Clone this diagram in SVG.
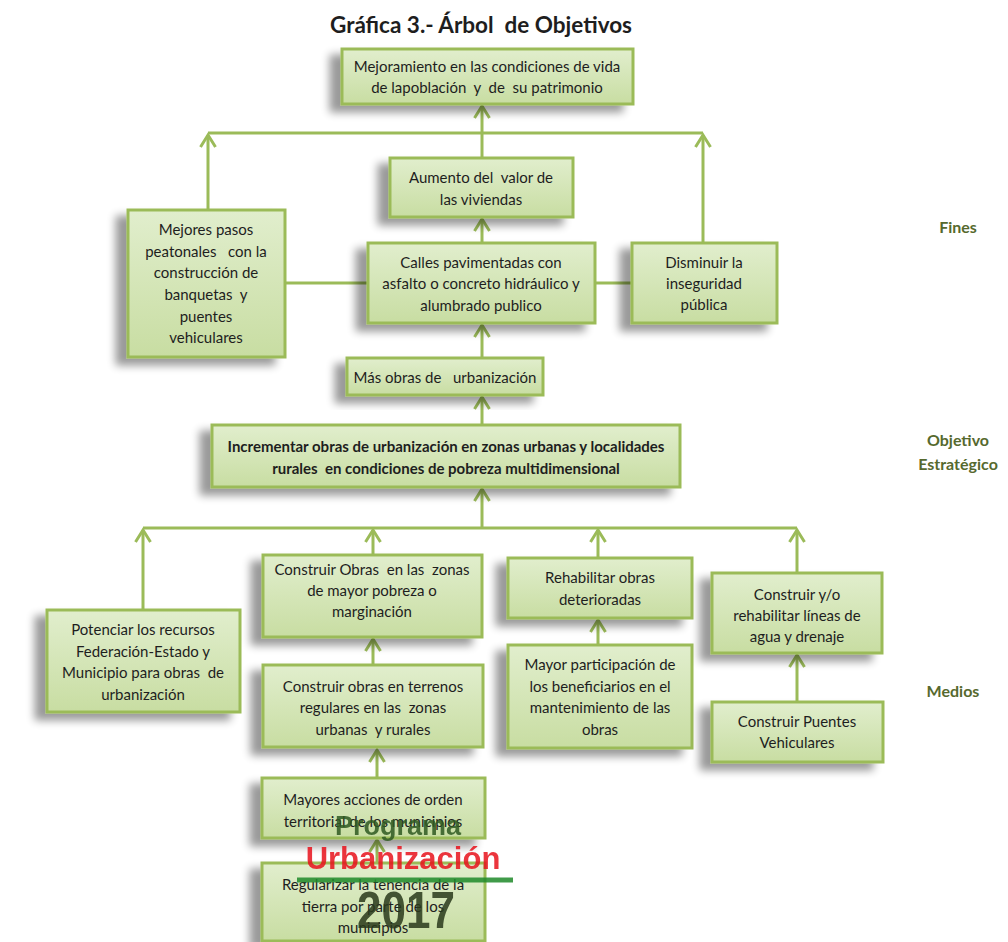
<svg xmlns="http://www.w3.org/2000/svg" width="1008" height="942" viewBox="0 0 1008 942">
<defs>
<linearGradient id="gf" x1="0" y1="0" x2="0" y2="1">
<stop offset="0" stop-color="#e1eecd"/>
<stop offset="1" stop-color="#c8dda2"/>
</linearGradient>
<filter id="sh" x="-30%" y="-30%" width="160%" height="170%">
<feGaussianBlur in="SourceAlpha" stdDeviation="4.5"/>
<feOffset dx="-11" dy="7"/>
<feComponentTransfer><feFuncA type="linear" slope="0.4"/></feComponentTransfer>
<feMerge><feMergeNode/><feMergeNode in="SourceGraphic"/></feMerge>
</filter>
<marker id="ah" markerUnits="userSpaceOnUse" markerWidth="20" markerHeight="20" viewBox="-14 -10 16 20" refX="0" refY="0" orient="auto">
<path d="M -12 -7.5 L 0 0 L -12 7.5" fill="none" stroke="#9bbb59" stroke-width="3"/>
</marker>
<style>
.b{fill:url(#gf);stroke:#9bbb59;stroke-width:3;filter:url(#sh)}
.t{font-family:Lato,"Open Sans",sans-serif;font-size:15px;fill:#1e1e1e;text-anchor:middle}
.tb{font-family:Lato,"Open Sans",sans-serif;font-size:15px;font-weight:bold;fill:#1e1e1e;text-anchor:middle}
.lab{font-family:Lato,"Open Sans",sans-serif;font-size:16px;font-weight:bold;fill:#56692e;text-anchor:middle}
.c{fill:none;stroke:#9bbb59;stroke-width:3}
.a{marker-end:url(#ah)}
</style>
</defs>
<rect width="1008" height="942" fill="#ffffff"/>
<text x="481" y="33" font-family="Lato,'Open Sans',sans-serif" font-size="22.5" font-weight="bold" fill="#1e1e1e" text-anchor="middle">Gráfica 3.- Árbol&#160; de Objetivos</text>

<g id="connectors">
<line class="c" x1="208" y1="133" x2="703" y2="133"/>
<line class="c a" x1="482" y1="158" x2="482" y2="106"/>
<line class="c a" x1="208" y1="210" x2="208" y2="135"/>
<line class="c a" x1="703" y1="243" x2="703" y2="135"/>
<line class="c a" x1="482" y1="243" x2="482" y2="219"/>
<line class="c" x1="285" y1="283" x2="368" y2="283"/>
<line class="c" x1="595" y1="283" x2="632" y2="283"/>
<line class="c a" x1="482" y1="358" x2="482" y2="325"/>
<line class="c a" x1="482" y1="425" x2="482" y2="397"/>
<line class="c a" x1="482" y1="528" x2="482" y2="489"/>
<line class="c" x1="143" y1="528" x2="797" y2="528"/>
<line class="c a" x1="143" y1="610" x2="143" y2="530"/>
<line class="c a" x1="373" y1="555" x2="373" y2="530"/>
<line class="c a" x1="598" y1="558" x2="598" y2="530"/>
<line class="c a" x1="797" y1="573" x2="797" y2="530"/>
<line class="c a" x1="373" y1="665" x2="373" y2="639"/>
<line class="c a" x1="598" y1="645" x2="598" y2="620"/>
<line class="c a" x1="797" y1="702" x2="797" y2="655"/>
<line class="c a" x1="377" y1="778" x2="377" y2="750"/>
<line class="c a" x1="377" y1="863" x2="377" y2="840"/>
</g>

<g id="n-top"><rect class="b" x="342" y="49" width="291" height="55"/>
<text class="t" x="487" y="72">Mejoramiento en las condiciones de vida</text>
<text class="t" x="487" y="93">de lapoblación&#160; y&#160; de&#160; su patrimonio</text></g>

<g id="n-aumento"><rect class="b" x="390" y="158" width="183" height="59"/>
<text class="t" x="481" y="183">Aumento del&#160; valor de</text>
<text class="t" x="481" y="205">las viviendas</text></g>

<g id="n-calles"><rect class="b" x="368" y="243" width="227" height="80"/>
<text class="t" x="481" y="268">Calles pavimentadas con</text>
<text class="t" x="481" y="289">asfalto o concreto hidráulico y</text>
<text class="t" x="481" y="311">alumbrado publico</text></g>

<g id="n-mejores"><rect class="b" x="128" y="210" width="157" height="147"/>
<text class="t" x="206" y="235">Mejores pasos</text>
<text class="t" x="206" y="257">peatonales &#160; con la</text>
<text class="t" x="206" y="278">construcción de</text>
<text class="t" x="206" y="300">banquetas&#160; y</text>
<text class="t" x="206" y="322">puentes</text>
<text class="t" x="206" y="343">vehiculares</text></g>

<g id="n-disminuir"><rect class="b" x="632" y="243" width="145" height="80"/>
<text class="t" x="704" y="268">Disminuir la</text>
<text class="t" x="704" y="289">inseguridad</text>
<text class="t" x="704" y="310">pública</text></g>

<g id="n-mas"><rect class="b" x="347" y="358" width="196" height="37"/>
<text class="t" x="445" y="383">Más obras de &#160; urbanización</text></g>

<g id="n-incrementar"><rect class="b" x="212" y="425" width="468" height="62"/>
<text class="tb" x="446" y="452">Incrementar obras de urbanización en zonas urbanas y localidades</text>
<text class="tb" x="446" y="474">rurales&#160; en condiciones de pobreza multidimensional</text></g>

<g id="n-potenciar"><rect class="b" x="47" y="610" width="193" height="102"/>
<text class="t" x="143" y="635">Potenciar los recursos</text>
<text class="t" x="143" y="657">Federación-Estado y</text>
<text class="t" x="143" y="678">Municipio para obras&#160; de</text>
<text class="t" x="143" y="700">urbanización</text></g>

<g id="n-construir-obras"><rect class="b" x="263" y="555" width="219" height="82"/>
<text class="t" x="372" y="575">Construir Obras&#160; en las&#160; zonas</text>
<text class="t" x="372" y="596">de mayor pobreza o</text>
<text class="t" x="372" y="617">marginación</text></g>

<g id="n-terrenos"><rect class="b" x="263" y="665" width="220" height="82"/>
<text class="t" x="373" y="692">Construir obras en terrenos</text>
<text class="t" x="373" y="713">regulares en las&#160; zonas</text>
<text class="t" x="373" y="735">urbanas&#160; y rurales</text></g>

<g id="n-rehabilitar"><rect class="b" x="508" y="558" width="184" height="60"/>
<text class="t" x="600" y="583">Rehabilitar obras</text>
<text class="t" x="600" y="605">deterioradas</text></g>

<g id="n-participacion"><rect class="b" x="508" y="645" width="184" height="103"/>
<text class="t" x="600" y="670">Mayor participación de</text>
<text class="t" x="600" y="692">los beneficiarios en el</text>
<text class="t" x="600" y="713">mantenimiento de las</text>
<text class="t" x="600" y="735">obras</text></g>

<g id="n-agua"><rect class="b" x="712" y="573" width="170" height="80"/>
<text class="t" x="797" y="600">Construir y/o</text>
<text class="t" x="797" y="621">rehabilitar líneas de</text>
<text class="t" x="797" y="642">agua y drenaje</text></g>

<g id="n-puentes"><rect class="b" x="712" y="702" width="171" height="60"/>
<text class="t" x="797" y="727">Construir Puentes</text>
<text class="t" x="797" y="748">Vehiculares</text></g>

<g id="n-mayores"><rect class="b" x="262" y="778" width="223" height="60"/>
<text class="t" x="373" y="805">Mayores acciones de orden</text>
<text class="t" x="373" y="827">territorial de los municipios</text></g>

<g id="n-regularizar"><rect class="b" x="262" y="863" width="223" height="78"/>
<text class="t" x="373" y="890">Regularizar la tenencia de la</text>
<text class="t" x="373" y="912">tierra por parte de los</text>
<text class="t" x="373" y="933">municipios</text></g>

<g id="labels">
<text class="lab" x="958" y="233">Fines</text>
<text class="lab" x="958" y="446">Objetivo</text>
<text class="lab" x="958" y="470">Estratégico</text>
<text class="lab" x="953" y="697">Medios</text>
</g>

<g id="watermark" opacity="0.85">
<text x="398" y="835" font-family="'Liberation Sans',Arial,sans-serif" font-size="27" font-weight="bold" fill="#2f5a22" text-anchor="middle">Programa</text>
<text x="403" y="869" font-family="'Liberation Sans',Arial,sans-serif" font-size="31" font-weight="bold" fill="#e8121c" text-anchor="middle">Urbanización</text>
<line x1="297" y1="880" x2="513" y2="880" stroke="#1f8a2a" stroke-width="5"/>
<text x="406" y="928" font-family="'Liberation Sans',Arial,sans-serif" font-size="52" font-weight="bold" fill="#2a3a1c" text-anchor="middle" textLength="98" lengthAdjust="spacingAndGlyphs">2017</text>
</g>
</svg>
